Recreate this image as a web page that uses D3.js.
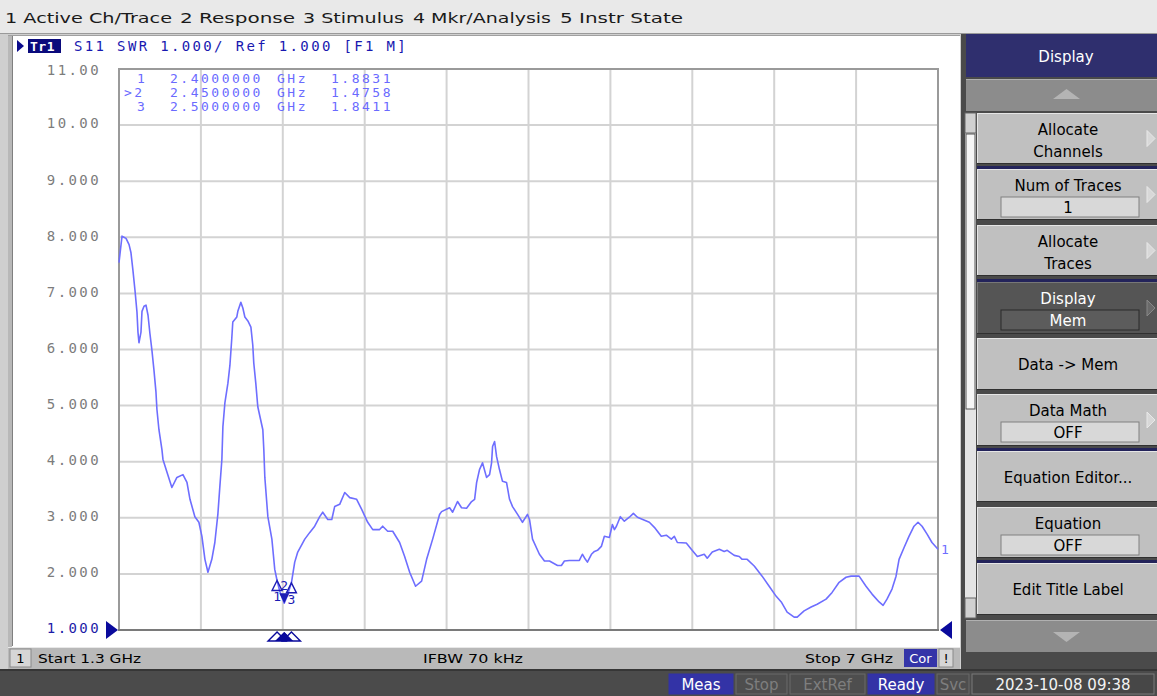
<!DOCTYPE html>
<html><head><meta charset="utf-8">
<script src="https://cdn.jsdelivr.net/npm/d3@7"></script>
<style>html,body{margin:0;padding:0;background:#c8c8c8;overflow:hidden}svg{display:block}</style>
</head><body>
<script>
// ---------------- data ----------------
const freqGHz = [1.300,1.321,1.349,1.370,1.383,1.397,1.411,1.425,1.432,1.439,
1.453,1.460,1.474,1.488,1.502,1.515,1.529,1.543,1.557,1.564,
1.578,1.599,1.606,1.634,1.668,1.703,1.745,1.773,1.794,1.828,
1.856,1.877,1.898,1.919,1.946,1.967,1.988,2.002,2.016,2.023,
2.037,2.058,2.072,2.085,2.092,2.120,2.127,2.148,2.162,2.176,
2.197,2.218,2.231,2.238,2.252,2.266,2.301,2.308,2.315,2.336,
2.364,2.384,2.400,2.419,2.450,2.475,2.500,2.523,2.544,2.593,
2.628,2.662,2.697,2.718,2.753,2.781,2.801,2.836,2.871,2.906,
2.954,2.989,3.031,3.066,3.114,3.135,3.170,3.205,3.253,3.288,
3.323,3.364,3.406,3.441,3.483,3.531,3.545,3.601,3.622,3.656,
3.684,3.719,3.754,3.775,3.789,3.809,3.830,3.858,3.879,3.893,
3.900,3.914,3.928,3.948,3.969,3.997,4.018,4.039,4.074,4.108,
4.143,4.157,4.178,4.226,4.261,4.296,4.352,4.379,4.400,4.435,
4.504,4.525,4.546,4.560,4.588,4.609,4.630,4.657,4.678,4.713,
4.734,4.748,4.762,4.789,4.817,4.852,4.880,4.908,4.991,5.026,
5.074,5.109,5.144,5.165,5.186,5.248,5.283,5.325,5.373,5.394,
5.429,5.478,5.512,5.533,5.582,5.617,5.637,5.672,5.721,5.776,
5.825,5.874,5.909,5.950,5.999,6.020,6.068,6.117,6.159,6.221,
6.263,6.312,6.360,6.395,6.451,6.499,6.541,6.590,6.618,6.645,
6.680,6.708,6.729,6.764,6.798,6.833,6.861,6.889,6.924,6.958,7.000];
const swr = [7.55,8.02,7.98,7.87,7.73,7.41,7.06,6.67,6.31,6.12,
6.31,6.68,6.77,6.79,6.61,6.29,5.99,5.64,5.25,4.93,
4.57,4.21,4.04,3.81,3.54,3.72,3.77,3.63,3.33,3.02,
2.92,2.67,2.26,2.03,2.26,2.56,3.06,3.56,4.04,4.62,
5.05,5.40,5.72,6.20,6.49,6.58,6.68,6.84,6.74,6.58,
6.51,6.40,6.08,5.76,5.40,4.98,4.57,4.21,3.72,3.02,
2.62,2.08,1.883,1.69,1.476,1.64,1.841,2.21,2.39,2.62,
2.74,2.85,3.02,3.10,2.97,2.97,3.20,3.24,3.45,3.36,
3.33,3.15,2.92,2.79,2.79,2.85,2.76,2.76,2.56,2.31,
2.03,1.78,1.87,2.26,2.62,3.06,3.11,3.18,3.10,3.29,
3.18,3.17,3.29,3.33,3.63,3.86,3.98,3.72,3.77,3.98,
4.27,4.36,4.09,3.86,3.65,3.63,3.33,3.20,3.06,2.92,
3.06,2.97,2.62,2.35,2.23,2.23,2.15,2.15,2.23,2.24,
2.24,2.35,2.26,2.21,2.35,2.40,2.42,2.49,2.67,2.65,
2.88,2.79,2.85,3.02,2.94,3.01,3.08,3.01,2.92,2.83,
2.67,2.69,2.62,2.67,2.56,2.55,2.44,2.31,2.35,2.28,
2.39,2.44,2.40,2.42,2.33,2.31,2.26,2.26,2.14,1.96,
1.78,1.60,1.50,1.32,1.23,1.23,1.34,1.41,1.46,1.55,
1.67,1.85,1.94,1.96,1.96,1.78,1.64,1.50,1.44,1.55,
1.73,1.96,2.26,2.47,2.67,2.85,2.92,2.85,2.71,2.56,2.44];

const markerIds = ["1", "2", "3"];
const markerFreq = [2.40, 2.45, 2.50];
const markerSWR = [1.8831, 1.4758, 1.8411];
const markerFreqText = ["2.4000000", "2.4500000", "2.5000000"];
const markerValText = ["1.8831", "1.4758", "1.8411"];
const activeMarker = "2";

const yTickValues = [1,2,3,4,5,6,7,8,9,10,11];
const yTickLabels = ["1.000","2.000","3.000","4.000","5.000","6.000","7.000","8.000","9.000","10.00","11.00"];
const startGHz = 1.3, stopGHz = 7.0, xDivisions = 10;

const menuItems = ["1 Active Ch/Trace","2 Response","3 Stimulus","4 Mkr/Analysis","5 Instr State"];
const traceTitle = "S11 SWR 1.000/ Ref 1.000 [F1 M]";
const statusTexts = ["Start 1.3 GHz", "IFBW 70 kHz", "Stop 7 GHz"];
const softkeyTitle = "Display";
const softkeys = [
  {lines:["Allocate","Channels"], arrow:true},
  {lines:["Num of Traces"], field:"1", arrow:true},
  {lines:["Allocate","Traces"], arrow:true},
  {lines:["Display"], field:"Mem", arrow:true, dark:true},
  {lines:["Data -> Mem"]},
  {lines:["Data Math"], field:"OFF", arrow:true},
  {lines:["Equation Editor..."]},
  {lines:["Equation"], field:"OFF"},
  {lines:["Edit Title Label"]}
];
const bottomBoxes = [
  {t:"Meas", on:true}, {t:"Stop", on:false}, {t:"ExtRef", on:false},
  {t:"Ready", on:true}, {t:"Svc", on:false}
];
const dateText = "2023-10-08 09:38";

// ---------------- drawing ----------------
const W = 1157, H = 696;
const UI = "'DejaVu Sans', Verdana, sans-serif";
const MONO = "'DejaVu Sans Mono', monospace";
const svg = d3.select("body").append("svg").attr("width", W).attr("height", H);

svg.append("rect").attr("width", W).attr("height", H).attr("fill", "#cfcfcf");

// top menu bar
svg.append("rect").attr("x",0).attr("y",0).attr("width",W).attr("height",34).attr("fill","#e9e9e9");
svg.append("line").attr("x1",0).attr("x2",W).attr("y1",33.5).attr("y2",33.5).attr("stroke","#9a9a9a");
const menuX = [5, 180, 303, 413, 560];
const menuW = [167, 115, 101, 138, 123];
menuItems.forEach((m,i)=>{
  svg.append("text").attr("x",menuX[i]).attr("y",23).attr("font-family",UI).attr("font-size",14.5)
    .attr("textLength",menuW[i]).attr("lengthAdjust","spacingAndGlyphs").attr("fill","#1a1a1a").text(m);
});

// chart window
svg.append("rect").attr("x",8).attr("y",35).attr("width",952).attr("height",612).attr("fill","#ffffff");
svg.append("rect").attr("x",8).attr("y",35).attr("width",4).attr("height",612).attr("fill","#b8b8b8");
svg.append("line").attr("x1",12.5).attr("x2",12.5).attr("y1",36).attr("y2",646).attr("stroke","#808080");
svg.append("line").attr("x1",8).attr("x2",960).attr("y1",35.5).attr("y2",35.5).attr("stroke","#a0a0a0");

// scales
const x = d3.scaleLinear().domain([startGHz, stopGHz]).range([119, 938]);
const y = d3.scaleLinear().domain([1, 11]).range([630, 69]);

// grid
const xGrid = d3.range(xDivisions + 1).map(i => startGHz + i * (stopGHz - startGHz) / xDivisions);
const grid = svg.append("g");
grid.selectAll(".vg").data(xGrid.slice(1, -1)).join("line")
  .attr("x1", d=>x(d)).attr("x2", d=>x(d)).attr("y1", y(11)).attr("y2", y(1))
  .attr("stroke","#d3d3d3").attr("stroke-width",2);
grid.selectAll(".hg").data(yTickValues.slice(1, -1)).join("line")
  .attr("x1", x(startGHz)).attr("x2", x(stopGHz)).attr("y1", d=>y(d)).attr("y2", d=>y(d))
  .attr("stroke","#d3d3d3").attr("stroke-width",2);
// border
svg.append("rect").attr("x",x(startGHz)).attr("y",y(11)).attr("width",x(stopGHz)-x(startGHz)).attr("height",y(1)-y(11))
  .attr("fill","none").attr("stroke","#9a9a9a").attr("stroke-width",2);
svg.append("line").attr("x1",x(startGHz)-1).attr("x2",x(stopGHz)+1).attr("y1",y(1)).attr("y2",y(1))
  .attr("stroke","#7a7a7a").attr("stroke-width",2);

// y axis labels
const yAxis = d3.axisLeft(y).tickValues(yTickValues).tickSize(0).tickPadding(0)
  .tickFormat((d,i)=>yTickLabels[i]);
const yAxG = svg.append("g").attr("transform","translate(101,0)").call(yAxis);
yAxG.select(".domain").remove();
yAxG.selectAll("text").attr("font-family",MONO).attr("font-size",14).attr("letter-spacing","2.4px")
  .attr("fill", d => d === 1 ? "#1c1ca8" : "#7c7c7c").attr("dy", d => d === 11 ? "0.4em" : "0.2em");

// reference triangles
svg.append("path").attr("d", `M${106},${y(1)-9} L${118},${y(1)} L${106},${y(1)+9} Z`).attr("fill","#0a0a9c");
svg.append("path").attr("d", `M${952},${y(1)-9} L${940},${y(1)} L${952},${y(1)+9} Z`).attr("fill","#0a0a9c");

// trace title
svg.append("path").attr("d","M17,40 L24,46 L17,52 Z").attr("fill","#0a0a8c");
svg.append("rect").attr("x",28).attr("y",39).attr("width",33).attr("height",14).attr("fill","#0a0a7c");
svg.append("text").attr("x",30).attr("y",51).attr("font-family",MONO).attr("font-weight","bold").attr("font-size",13)
  .attr("fill","#ffffff").attr("letter-spacing","0.5px").text("Tr1");
svg.append("text").attr("x",74).attr("y",51).attr("font-family",MONO).attr("font-size",14)
  .attr("letter-spacing","2.35px").attr("fill","#1818b0").text(traceTitle);

// trace
const pts = freqGHz.map((f,i)=>[f, swr[i]]);
const line = d3.line().x(d=>x(d[0])).y(d=>y(d[1])).curve(d3.curveLinear);
svg.append("path").datum(pts).attr("d", line).attr("fill","none")
  .attr("stroke","#6e6eff").attr("stroke-width",1.6).attr("stroke-linejoin","round");
svg.append("text").attr("x",941).attr("y",y(swr[swr.length-1])+5).attr("font-family",MONO).attr("font-size",13)
  .attr("fill","#6e6eff").text("1");

// marker table
const tbl = svg.append("g").attr("font-family",MONO).attr("font-size",13).attr("fill","#6a6aff").attr("letter-spacing","2.5px");
markerIds.forEach((id,i)=>{
  const ty = 83 + i*14;
  tbl.append("text").attr("x", id===activeMarker ? 124 : 137).attr("y",ty).text(id===activeMarker ? ">"+id : id);
  tbl.append("text").attr("x",170).attr("y",ty).text(markerFreqText[i]);
  tbl.append("text").attr("x",277).attr("y",ty).text("GHz");
  tbl.append("text").attr("x",331).attr("y",ty).text(markerValText[i]);
});

// markers on trace
const mk = svg.append("g").attr("font-family",MONO).attr("font-size",13).attr("fill","#1c1cb4");
markerIds.forEach((id,i)=>{
  const mx = x(markerFreq[i]), my = y(markerSWR[i]);
  if (id === activeMarker) {
    mk.append("path").attr("d",`M${mx-5},${my-10} L${mx+5},${my-10} L${mx},${my} Z`).attr("fill","#1c1cb4");
    mk.append("text").attr("x",mx).attr("y",my-13).attr("text-anchor","middle").text(id);
  } else {
    mk.append("path").attr("d",`M${mx},${my} L${mx+5},${my+10} L${mx-5},${my+10} Z`)
      .attr("fill","none").attr("stroke","#1c1cb4").attr("stroke-width",1.4);
    mk.append("text").attr("x",mx).attr("y",my+21).attr("text-anchor","middle").text(id);
  }
});
// stimulus markers on x-axis
markerIds.forEach((id,i)=>{
  const mx = x(markerFreq[i]);
  const p = svg.append("path").attr("d",`M${mx},${y(1)+2} L${mx+9},${y(1)+11} L${mx-9},${y(1)+11} Z`);
  if (id === activeMarker) p.attr("fill","#0a0a9c");
  else p.attr("fill","#ffffff").attr("stroke","#0a0a9c").attr("stroke-width",1.4);
});
svg.append("path").attr("d",`M${x(markerFreq[1])},${y(1)+2} L${x(markerFreq[1])+9},${y(1)+11} L${x(markerFreq[1])-9},${y(1)+11} Z`).attr("fill","#0a0a9c");

// status bar of chart window
svg.append("rect").attr("x",8).attr("y",647).attr("width",952).attr("height",22).attr("fill","#b9b9b9");
svg.append("line").attr("x1",8).attr("x2",960).attr("y1",647.5).attr("y2",647.5).attr("stroke","#e8e8e8");
svg.append("rect").attr("x",10).attr("y",649).attr("width",21).attr("height",18).attr("fill","#d6d6d6").attr("stroke","#8a8a8a");
svg.append("text").attr("x",20.5).attr("y",663).attr("text-anchor","middle").attr("font-family",UI).attr("font-size",13).text("1");
svg.append("text").attr("x",38).attr("y",663).attr("font-family",UI).attr("font-size",13).attr("textLength",103).attr("lengthAdjust","spacingAndGlyphs").text(statusTexts[0]);
svg.append("text").attr("x",423).attr("y",663).attr("font-family",UI).attr("font-size",13).attr("textLength",100).attr("lengthAdjust","spacingAndGlyphs").text(statusTexts[1]);
svg.append("text").attr("x",805).attr("y",663).attr("font-family",UI).attr("font-size",13).attr("textLength",88).attr("lengthAdjust","spacingAndGlyphs").text(statusTexts[2]);
svg.append("rect").attr("x",904).attr("y",649).attr("width",33).attr("height",18).attr("fill","#3434a8");
svg.append("text").attr("x",920.5).attr("y",663).attr("text-anchor","middle").attr("font-family",UI).attr("font-size",13).attr("fill","#fff").text("Cor");
svg.append("rect").attr("x",939).attr("y",649).attr("width",14).attr("height",18).attr("fill","#d6d6d6").attr("stroke","#8a8a8a");
svg.append("text").attr("x",946).attr("y",663).attr("text-anchor","middle").attr("font-family",UI).attr("font-size",13).text("!");

// bottom instrument bar
svg.append("rect").attr("x",0).attr("y",669).attr("width",W).attr("height",27).attr("fill","#4b4b4b");
svg.append("line").attr("x1",0).attr("x2",W).attr("y1",670).attr("y2",670).attr("stroke","#222");
const bbX = [669, 736, 790, 868, 937], bbW = [64, 51, 75, 66, 32];
bottomBoxes.forEach((b,i)=>{
  svg.append("rect").attr("x",bbX[i]).attr("y",674).attr("width",bbW[i]).attr("height",20)
    .attr("fill", b.on ? "#3333a6" : "#4e4e4e").attr("stroke", b.on ? "#3333a6" : "#6a6a6a");
  svg.append("text").attr("x",bbX[i]+bbW[i]/2).attr("y",690).attr("text-anchor","middle")
    .attr("font-family",UI).attr("font-size",15).attr("fill", b.on ? "#ffffff" : "#7e7e7e").text(b.t);
});
svg.append("rect").attr("x",972).attr("y",674).attr("width",182).attr("height",20).attr("fill","#474747").attr("stroke","#7a7a7a");
svg.append("text").attr("x",1063).attr("y",690).attr("text-anchor","middle").attr("font-family",UI).attr("font-size",15)
  .attr("fill","#f2f2f2").text(dateText);

// right softkey panel
svg.append("rect").attr("x",961).attr("y",34).attr("width",196).attr("height",635).attr("fill","#4a4a4a");
svg.append("rect").attr("x",966).attr("y",34).attr("width",191).attr("height",43).attr("fill","#2f2f6e");
svg.append("text").attr("x",1066).attr("y",62).attr("text-anchor","middle").attr("font-family",UI).attr("font-size",15)
  .attr("fill","#fff").text(softkeyTitle);
function arrowBtn(y0, up){
  svg.append("rect").attr("x",966).attr("y",y0).attr("width",191).attr("height",32).attr("fill","#8c8c8c");
  svg.append("line").attr("x1",966).attr("x2",1157).attr("y1",y0+0.5).attr("y2",y0+0.5).attr("stroke","#b0b0b0");
  const cy = y0+16;
  svg.append("path").attr("d", up ? `M1053,${cy+4} L1080,${cy+4} L1066.5,${cy-6} Z` : `M1053,${cy-4} L1080,${cy-4} L1066.5,${cy+6} Z`)
    .attr("fill","#b4b4b4");
}
arrowBtn(79, true);
arrowBtn(620, false);
// scrollbar
svg.append("rect").attr("x",965).attr("y",113).attr("width",11).attr("height",505).attr("fill","#e4e4e4");
svg.append("rect").attr("x",965).attr("y",113).attr("width",11).attr("height",20).attr("fill","#d0d0d0").attr("stroke","#666");
svg.append("rect").attr("x",966).attr("y",134).attr("width",9).attr("height",275).attr("fill","#f6f6f6").attr("stroke","#555");
svg.append("rect").attr("x",965).attr("y",598).attr("width",11).attr("height",20).attr("fill","#d0d0d0").attr("stroke","#666");

const keyTop = [113, 169, 225, 282, 338, 394, 451, 507, 563];
const keyH = [53, 53, 53, 54, 54, 54, 53, 53, 54];
softkeys.forEach((k,i)=>{
  const y0 = keyTop[i], h = keyH[i];
  svg.append("rect").attr("x",977).attr("y",y0).attr("width",180).attr("height",h-2)
    .attr("fill", k.dark ? "#555555" : "#c0c0c0");
  svg.append("line").attr("x1",977).attr("x2",1157).attr("y1",y0+0.5).attr("y2",y0+0.5).attr("stroke", k.dark ? "#777":"#e6e6e6");
  svg.append("line").attr("x1",977.5).attr("x2",977.5).attr("y1",y0).attr("y2",y0+h-2).attr("stroke", k.dark ? "#777":"#e6e6e6");
  svg.append("line").attr("x1",977).attr("x2",1157).attr("y1",y0+h-2.5).attr("y2",y0+h-2.5).attr("stroke","#303030");
  const tc = k.dark ? "#ffffff" : "#000000";
  if (k.lines.length === 2) {
    k.lines.forEach((l,j)=> svg.append("text").attr("x",1068).attr("y",y0+22+j*22).attr("text-anchor","middle")
      .attr("font-family",UI).attr("font-size",15).attr("fill",tc).text(l));
  } else if (k.field) {
    svg.append("text").attr("x",1068).attr("y",y0+22).attr("text-anchor","middle")
      .attr("font-family",UI).attr("font-size",15).attr("fill",tc).text(k.lines[0]);
    svg.append("rect").attr("x",1001).attr("y",y0+28).attr("width",138).attr("height",20)
      .attr("fill", k.dark ? "#5c5c5c" : "#d8d8d8").attr("stroke", k.dark ? "#2a2a2a" : "#808080");
    svg.append("text").attr("x",1068).attr("y",y0+44).attr("text-anchor","middle")
      .attr("font-family",UI).attr("font-size",15).attr("fill",tc).text(k.field);
  } else {
    svg.append("text").attr("x",1068).attr("y",y0+h/2+5).attr("text-anchor","middle")
      .attr("font-family",UI).attr("font-size",15).attr("fill",tc).text(k.lines[0]);
  }
  if (k.arrow) {
    const cy = y0 + h/2 - 1;
    svg.append("path").attr("d",`M1147,${cy-8} L1155,${cy} L1147,${cy+8} Z`)
      .attr("fill", k.dark ? "#6a6a6a" : "#d8d8d8").attr("stroke", k.dark ? "#888" : "#e8e8e8");
  }
});
// navy separators
[166, 279, 448, 560].forEach(sy=>{
  svg.append("rect").attr("x",977).attr("y",sy).attr("width",180).attr("height",3).attr("fill","#23235a");
});
</script>
</body></html>
